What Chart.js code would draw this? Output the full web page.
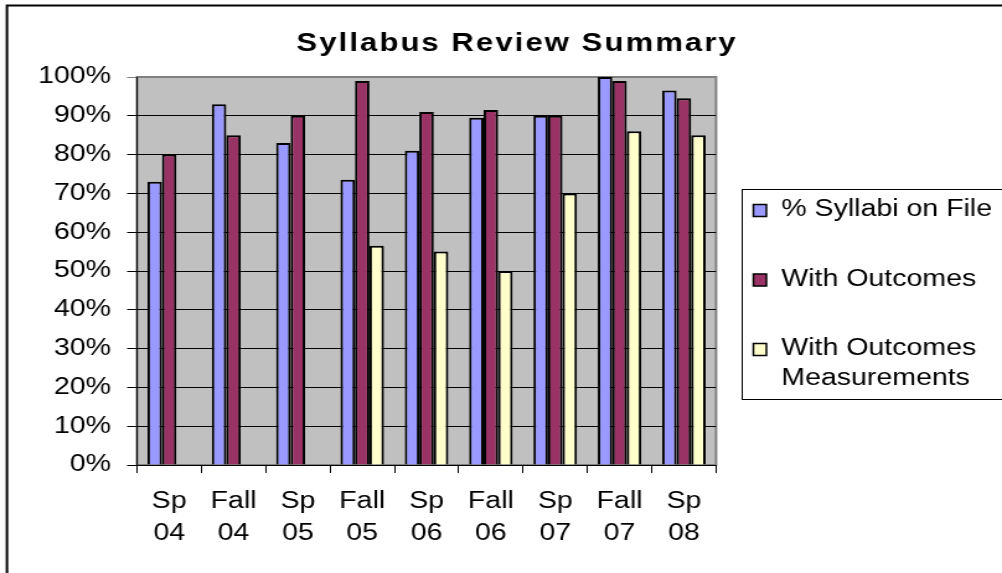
<!DOCTYPE html>
<html>
<head>
<meta charset="utf-8">
<script src="https://cdn.jsdelivr.net/npm/chart.js@4/dist/chart.umd.min.js"></script>
<style>
  html, body { margin: 0; padding: 0; background: #fff; overflow: hidden; }
  /* el original esta estirado a lo ancho; se dibuja mas angosto y se estira */
  #wrap { width: 808px; height: 573px; transform: scaleX(1.2401); transform-origin: 0 0; }
</style>
</head>
<body>
<div id="wrap"><canvas id="syllabusChart" width="808" height="573"></canvas></div>
<script>
const categories = [['Sp', '04'], ['Fall', '04'], ['Sp', '05'], ['Fall', '05'], ['Sp', '06'], ['Fall', '06'], ['Sp', '07'], ['Fall', '07'], ['Sp', '08']];
const syllabiOnFile = [73, 93, 83, 73.5, 81, 89.5, 90, 100, 96.5];
const withOutcomes = [80, 85, 90, 99, 91, 91.5, 90, 99, 94.5];
const withMeasurements = [null, null, null, 56.5, 55, 50, 70, 86, 85];
const seriesLabels = ['% Syllabi on File', 'With Outcomes', 'With Outcomes Measurements'];
const chartTitle = 'Syllabus Review Summary';

const FONT = "'Liberation Sans', Arial, sans-serif";

const frame = {
    id: 'frame',
    beforeDraw(chart) {
        const { ctx, chartArea: a } = chart;
        ctx.save();
        // marco exterior
        ctx.strokeStyle = '#000';
        ctx.lineWidth = 2;
        ctx.beginPath();
        ctx.moveTo(5.6, 580);
        ctx.lineTo(5.6, 5.5);
        ctx.lineTo(820, 5.5);
        ctx.stroke();
        // fondo del area
        ctx.fillStyle = '#C0C0C0';
        ctx.fillRect(a.left, a.top, a.right - a.left, a.bottom - a.top);
        ctx.strokeStyle = '#808080';
        ctx.lineWidth = 2;
        ctx.strokeRect(a.left, a.top, a.right - a.left, a.bottom - a.top);
        // titulo
        ctx.letterSpacing = '1.7px';
        ctx.fillStyle = '#000';
        ctx.font = 'bold 25px ' + FONT;
        ctx.textAlign = 'center';
        ctx.textBaseline = 'middle';
        ctx.fillText(chartTitle, 417, 44);
        ctx.restore();
    }
};

const sideLegend = {
    id: 'sideLegend',
    afterDraw(chart) {
        const ctx = chart.ctx;
        ctx.save();
        ctx.strokeStyle = '#000';
        ctx.lineWidth = 1;
        ctx.strokeRect(598.5, 189.5, 260, 210);
        ctx.font = '23px ' + FONT;
        ctx.textBaseline = 'middle';
        ctx.textAlign = 'left';
        let y = 210;
        chart.data.datasets.forEach(ds => {
            // partir la etiqueta si es muy larga
            const words = ds.label.split(' ');
            const lines = [];
            let cur = '';
            words.forEach(w => {
                const t = cur ? cur + ' ' + w : w;
                if (ctx.measureText(t).width > 175 && cur) {
                    lines.push(cur);
                    cur = w;
                } else {
                    cur = t;
                }
            });
            lines.push(cur);

            ctx.fillStyle = ds.backgroundColor;
            ctx.fillRect(607.5, y - 5.5, 10.5, 12);
            ctx.lineWidth = 1.5;
            ctx.strokeRect(607.5, y - 5.5, 10.5, 12);
            ctx.fillStyle = '#000';
            lines.forEach((l, i) => ctx.fillText(l, 630, y + i * 30));
            y += 69.5;
        });
        ctx.restore();
    }
};

new Chart(document.getElementById('syllabusChart'), {
    type: 'bar',
    data: {
        labels: categories,
        datasets: [
            {
                label: seriesLabels[0],
                data: syllabiOnFile,
                backgroundColor: '#9999FF',
                borderColor: '#000',
                borderWidth: 2
            },
            {
                label: seriesLabels[1],
                data: withOutcomes,
                backgroundColor: '#993366',
                borderColor: '#000',
                borderWidth: 2
            },
            {
                label: seriesLabels[2],
                data: withMeasurements,
                backgroundColor: '#FFFFCC',
                borderColor: '#000',
                borderWidth: 2
            }
        ]
    },
    options: {
        responsive: false,
        animation: false,
        devicePixelRatio: 1,
        categoryPercentage: 0.676,
        barPercentage: 1.0,
        layout: {
            padding: { left: 0, top: 77, right: 230.6, bottom: 0 }
        },
        plugins: {
            legend: { display: false },
            title: { display: false },
            tooltip: { enabled: false }
        },
        scales: {
            x: {
                grid: {
                    drawOnChartArea: false,
                    drawTicks: true,
                    tickLength: 8,
                    color: '#000'
                },
                border: { color: '#000', width: 1 },
                ticks: {
                    color: '#000',
                    padding: 13,
                    maxRotation: 0,
                    autoSkip: false,
                    font: { family: FONT, size: 23, lineHeight: 32 / 23 }
                },
                afterFit(scale) { scale.height = 108; }
            },
            y: {
                min: 0,
                max: 100,
                grid: {
                    color: ctx => (ctx.tick && ctx.tick.value === 100) ? '#808080' : '#000',
                    lineWidth: 1,
                    tickLength: 8
                },
                border: { color: '#000', width: 1 },
                ticks: {
                    stepSize: 10,
                    color: '#000',
                    padding: 13,
                    font: { family: FONT, size: 23 },
                    callback: v => v + '%'
                },
                afterFit(scale) { scale.width = 110.5; }
            }
        }
    },
    plugins: [frame, sideLegend]
});
</script>
</body>
</html>
